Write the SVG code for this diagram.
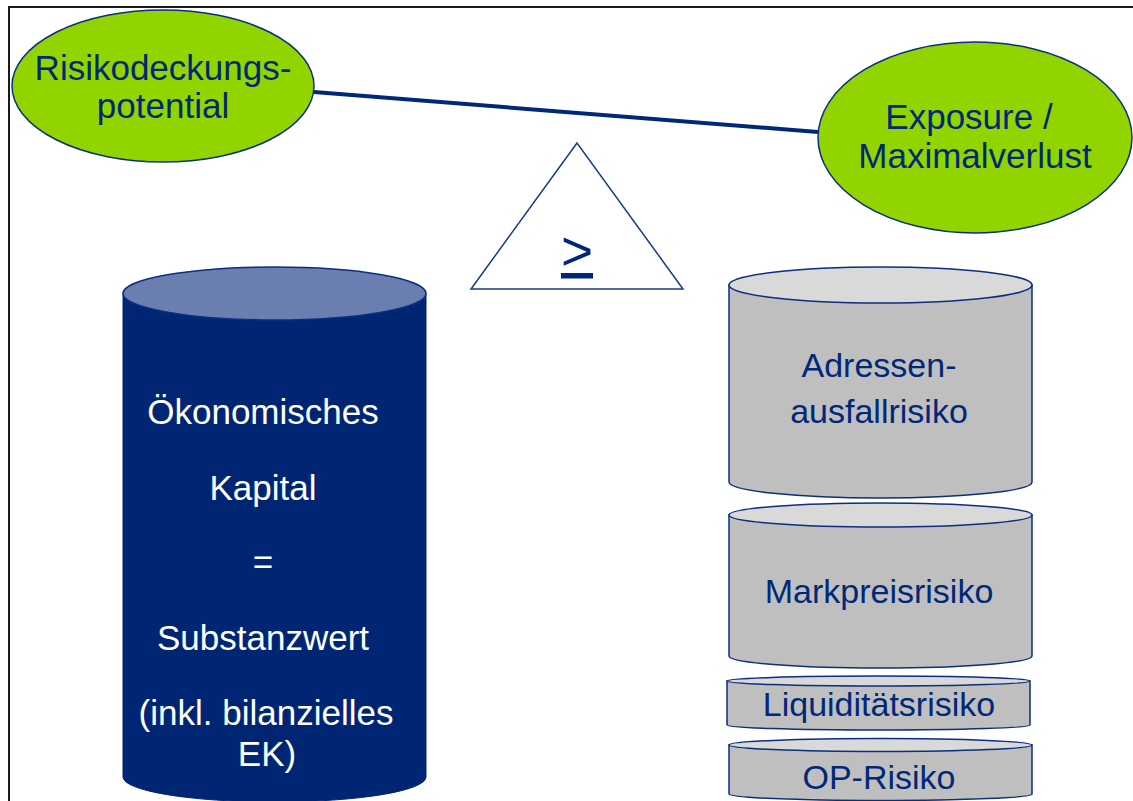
<svg xmlns="http://www.w3.org/2000/svg" width="1133" height="801" viewBox="0 0 1133 801">
<style>
  .lbl { font-family: "Liberation Sans", Arial, sans-serif; font-size: 34px; fill: #002878; text-anchor: middle; }
  .big { font-size: 35px; }
  .wht { font-family: "Liberation Sans", Arial, sans-serif; font-size: 35px; fill: #ffffff; text-anchor: middle; }
  .oval { fill: #92D400; stroke: #0A2F7F; stroke-width: 1.5; }
  .gbody { fill: #BFBFBF; stroke: #0A2F7F; stroke-width: 1.5; }
  .gtop { fill: #D9D9D9; stroke: #0A2F7F; stroke-width: 1.5; }
  .bbody { fill: #002673; stroke: #002673; stroke-width: 1; }
  .btop { fill: #6A7EAF; stroke: #0A2F7F; stroke-width: 1.5; }
</style>
<rect width="1133" height="801" fill="#ffffff"/>
<g id="frame" fill="none" stroke="#1a1a1a" stroke-width="2">
  <line x1="8" y1="7" x2="1133" y2="7"/>
  <line x1="9" y1="6" x2="9" y2="801"/>
</g>
<g id="connectors">
  <line x1="314" y1="92" x2="818" y2="132" stroke="#00287A" stroke-width="4"/>
</g>
<g id="risikodeckungspotential">
  <ellipse class="oval" cx="163" cy="86" rx="151" ry="76"/>
  <text class="lbl big" x="163" y="80">Risikodeckungs-</text>
  <text class="lbl big" x="163" y="118">potential</text>
</g>
<g id="exposure">
  <ellipse class="oval" cx="975" cy="137.5" rx="157" ry="95.5"/>
  <text class="lbl big" x="969" y="129">Exposure /</text>
  <text class="lbl big" x="975" y="168">Maximalverlust</text>
</g>
<g id="vergleich">
  <polygon points="577,143 471,289 683,289" fill="#ffffff" stroke="#173A85" stroke-width="1.5"/>
  <text x="577" y="270" font-family="Liberation Sans, Arial, sans-serif" font-size="55" fill="#002878" text-anchor="middle" text-decoration="underline">&gt;</text>
</g>
<g id="oekonomisches-kapital">
  <path class="bbody" d="M123,293.5 V777 A151.5,25 0 0 0 426,777 V293.5 Z"/>
  <ellipse class="btop" cx="274.5" cy="293.5" rx="151.5" ry="26.5"/>
  <text class="wht" x="263" y="424">Ökonomisches</text>
  <text class="wht" x="263" y="500">Kapital</text>
  <text class="wht" x="263" y="574">=</text>
  <text class="wht" x="263" y="650">Substanzwert</text>
  <text class="wht" x="266" y="725">(inkl. bilanzielles</text>
  <text class="wht" x="267" y="766">EK)</text>
</g>
<g id="adressenausfallrisiko">
  <path class="gbody" d="M729,285 V482 A151.5,16 0 0 0 1032,482 V285 Z"/>
  <ellipse class="gtop" cx="880.5" cy="285" rx="151.5" ry="18"/>
  <text class="lbl" x="879" y="377">Adressen-</text>
  <text class="lbl" x="879" y="423">ausfallrisiko</text>
</g>
<g id="markpreisrisiko">
  <path class="gbody" d="M729,515 V656 A151.5,12 0 0 0 1032,656 V515 Z"/>
  <ellipse class="gtop" cx="880.5" cy="515" rx="151.5" ry="12"/>
  <text class="lbl" x="879" y="603">Markpreisrisiko</text>
</g>
<g id="liquiditaetsrisiko">
  <path class="gbody" d="M727,681 V725 A151.5,5 0 0 0 1030,725 V681 Z"/>
  <ellipse class="gtop" cx="878.5" cy="681" rx="151.5" ry="5"/>
  <text class="lbl" x="879" y="716">Liquiditätsrisiko</text>
</g>
<g id="op-risiko">
  <path class="gbody" d="M729,745 V794 A151.5,6.5 0 0 0 1032,794 V745 Z"/>
  <ellipse class="gtop" cx="880.5" cy="745" rx="151.5" ry="6.5"/>
  <text class="lbl" x="879" y="789">OP-Risiko</text>
</g>
</svg>
